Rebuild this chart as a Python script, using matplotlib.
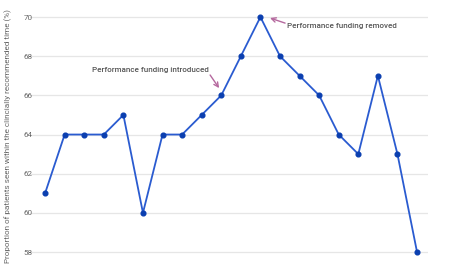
import matplotlib
matplotlib.use("Agg")
import matplotlib.pyplot as plt

periods = list(range(20))
values = [61, 64, 64, 64, 65, 60, 64, 64, 65, 66, 68, 70, 68, 67, 66, 64, 63, 67, 63, 58]
yticks = [58, 60, 62, 64, 66, 68, 70]
ylabel = "Proportion of patients seen within the clincially recommended time (%)"
note_in = "Performance funding introduced"
note_out = "Performance funding removed"

plt.rcParams['font.family'] = ['Roboto', 'DejaVu Sans']

fig = plt.figure(figsize=(4.5, 2.7), dpi=100)
W, H = 450, 270
left, right = 30, 428
top, bottom = 9.2, 267.7
ax = fig.add_axes([left / W, 1 - bottom / H, (right - left) / W, (bottom - top) / H])

ax.plot(periods, values, color='#2a5bd0', lw=1.3, marker='o', ms=3.4,
        mfc='#0b3fb0', mec='#0b3fb0', zorder=3)

ax.set_xlim(-0.77, 19.56)
ax.set_ylim(57.2, 70.4)
ax.set_yticks(yticks)
ax.set_xticks([])
ax.grid(axis='y', color='#e6e6e6', lw=0.9)
ax.set_axisbelow(True)
for s in ax.spines.values():
    s.set_visible(False)
ax.tick_params(axis='y', length=0, labelsize=5.8, labelcolor='#666666', pad=-2)
ax.set_ylabel(ylabel, fontsize=5.9, color='#666666')
ax.yaxis.set_label_coords(-0.045, 0.508)

arrow_col = '#b5689e'
aprops = dict(arrowstyle='->', color=arrow_col, lw=1.0, shrinkA=0, shrinkB=0,
              mutation_scale=8)
# introduced
ax.text(5.36, 67.29, note_in, fontsize=5.8, color='#555555', fontweight='medium',
        ha='center', va='center')
ax.annotate('', xy=(8.89, 66.37), xytext=(8.43, 67.04), arrowprops=aprops)
# removed
ax.text(12.36, 69.54, note_out, fontsize=5.8, color='#555555', fontweight='medium',
        ha='left', va='center')
ax.annotate('', xy=(11.49, 69.95), xytext=(12.26, 69.69), arrowprops=aprops)

fig.savefig("out.png", dpi=100, facecolor='white')
